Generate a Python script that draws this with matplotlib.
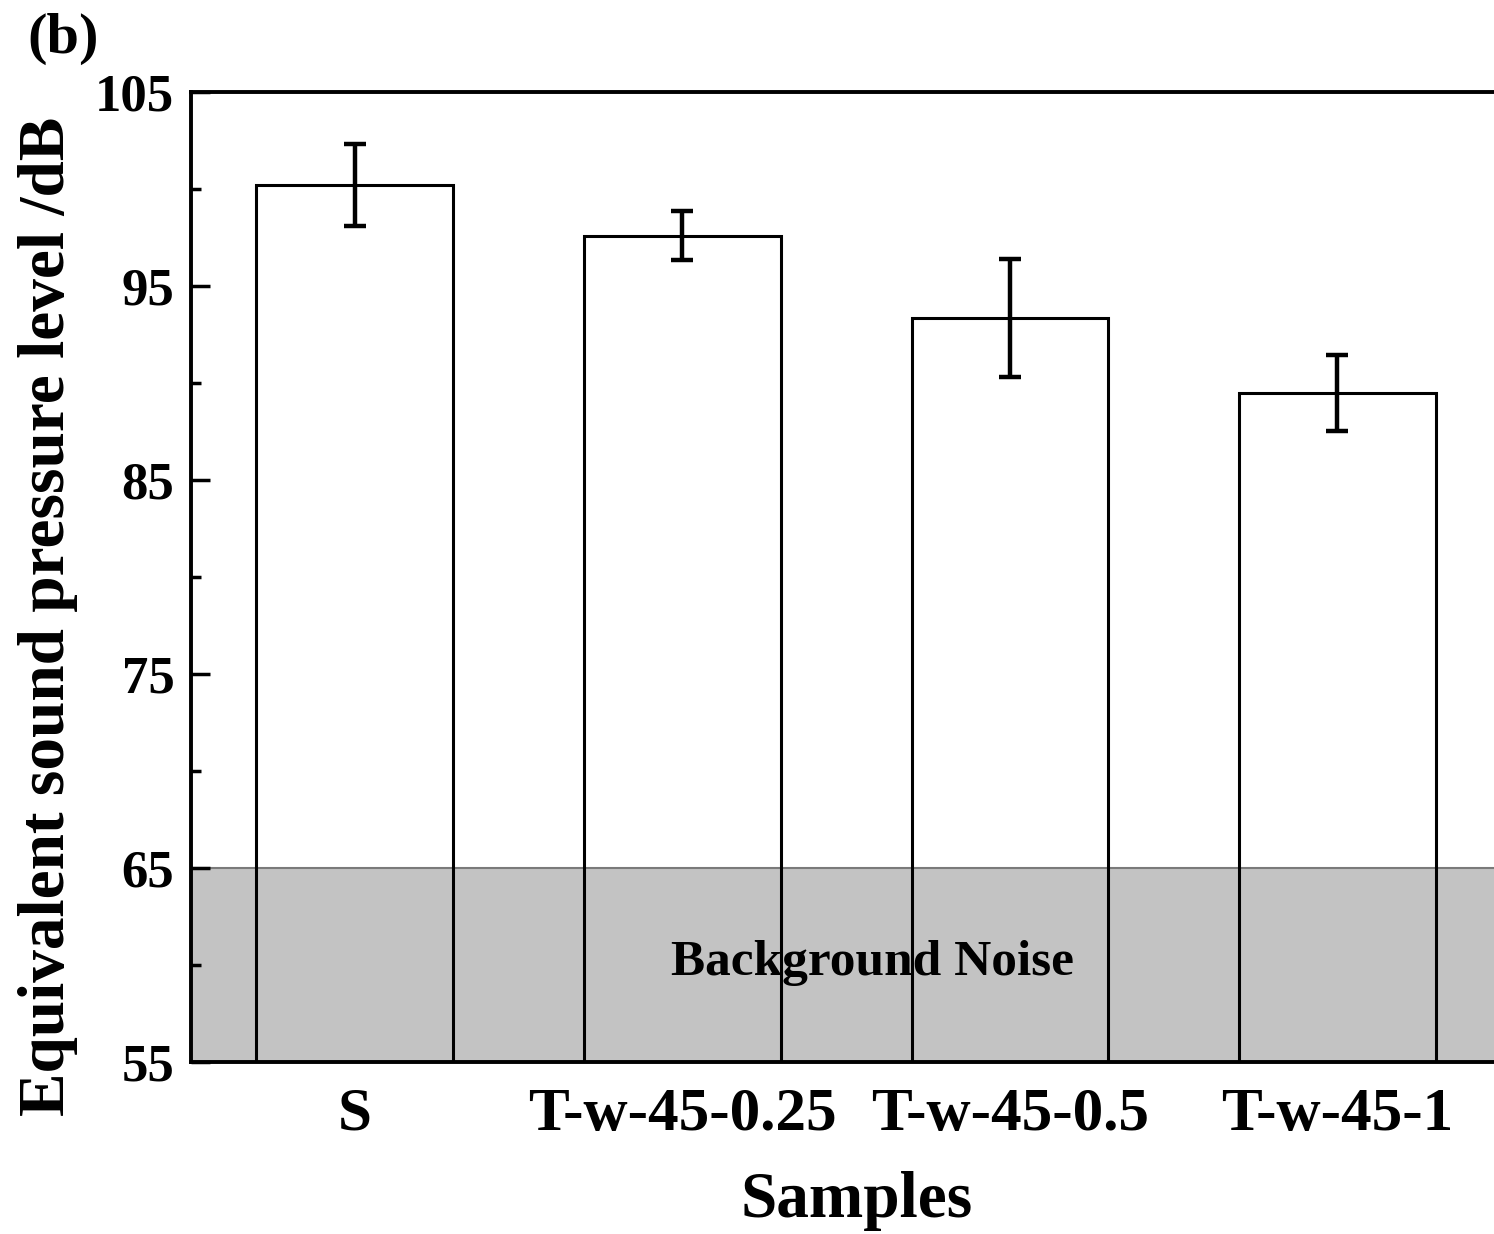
import matplotlib.pyplot as plt
import numpy as np

plt.rcParams['font.family'] = ['Liberation Serif', 'DejaVu Serif']
plt.rcParams['font.weight'] = 'bold'

# sound pressure level per sample (dB) and its spread
samples = ['S', 'T-w-45-0.25', 'T-w-45-0.5', 'T-w-45-1']
spl = [100.2, 97.6, 93.35, 89.5]
spl_err = [2.1, 1.25, 3.05, 1.95]
noise_level = 65

fig = plt.figure(figsize=(14.94, 12.34), dpi=100)
ax = fig.add_axes([0.1278, 0.1394, 0.877, 0.7860])

x = np.arange(1, len(samples) + 1)

# background noise band
ax.axhspan(55, noise_level, facecolor='#c3c3c3', edgecolor='none', zorder=0)
ax.axhline(noise_level, color='#7a7a7a', lw=1.5, zorder=1)

ax.bar(x, spl, width=0.6, bottom=0, facecolor='none', edgecolor='black',
       linewidth=2.2, zorder=2)
ax.errorbar(x, spl, yerr=spl_err, fmt='none', ecolor='black', elinewidth=3.2,
            capsize=8, capthick=3.2, zorder=3)

ax.text(2.58, 60.1, 'Background Noise', ha='center', va='center',
        fontsize=37, fontweight='bold', zorder=4)

ax.set_xlim(0.5, 4.5)
ax.set_ylim(55, 105)
ax.set_yticks(np.arange(55, 106, 10))
ax.set_yticks(np.arange(60, 105, 10), minor=True)
ax.set_xticks(x)
ax.set_xticklabels(samples)
ax.tick_params(axis='x', length=0, labelsize=44, pad=18)
ax.tick_params(axis='y', which='major', direction='in', length=14, width=2.5,
               labelsize=38, pad=12)
ax.tick_params(axis='y', which='minor', direction='in', length=7, width=2.5)
for s in ax.spines.values():
    s.set_linewidth(2.8)

ax.set_xlabel('Samples', fontsize=47, fontweight='bold')
ax.set_ylabel('Equivalent sound pressure level /dB', fontsize=47,
              fontweight='bold')
ax.xaxis.set_label_coords(0.508, -0.112)
ax.yaxis.set_label_coords(-0.086, 0.459)

fig.text(0.018, 0.99, '(b)', fontsize=42, fontweight='bold', va='top', ha='left')

fig.savefig('out.png', dpi=100)
